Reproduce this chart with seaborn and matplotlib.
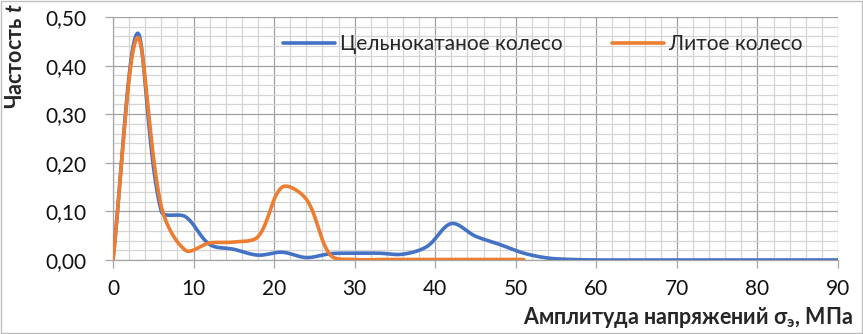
import numpy as np
import pandas as pd
import seaborn as sns
import matplotlib
matplotlib.use("Agg")
import matplotlib.pyplot as plt
from matplotlib.ticker import MultipleLocator, FuncFormatter
from matplotlib.patches import Rectangle

# Stress amplitude bins (MPa) and relative frequencies
amp_rolled = [0, 3, 6, 9, 12, 15, 18, 21, 24, 27, 30, 33, 36, 39, 42, 45, 48,
              51, 54, 57, 60, 63, 66, 69, 72, 75, 78, 81, 84, 87, 90]
freq_rolled = [0.0, 0.466, 0.100, 0.089, 0.032, 0.022, 0.010, 0.016, 0.005,
               0.013, 0.014, 0.014, 0.012, 0.028, 0.075, 0.049, 0.032, 0.014,
               0.004, 0.001, 0.0, 0.0, 0.0, 0.0, 0.0, 0.0, 0.0, 0.0, 0.0, 0.0, 0.0]

amp_cast = [0, 3, 6, 9, 12, 15, 18, 21, 24, 27, 30, 33, 36, 39, 42, 45, 48, 51]
freq_cast = [0.0, 0.457, 0.110, 0.020, 0.035, 0.037, 0.048, 0.150, 0.125,
             0.010, 0.001, 0.001, 0.001, 0.001, 0.001, 0.001, 0.001, 0.001]

series_names = ["Цельнокатаное колесо", "Литое колесо"]
series_colors = ["#4472C4", "#ED7D31"]
y_ticks = [0.0, 0.1, 0.2, 0.3, 0.4, 0.5]
x_ticks = [0, 10, 20, 30, 40, 50, 60, 70, 80, 90]

# Plot-area size in pixels, used to smooth curves in screen space
AREA_W, AREA_H = 725.0, 243.0
X_SPAN, Y_SPAN = 90.0, 0.5


def smooth_curve(xs, ys, n=40, k=1 / 3):
    """Chord-length weighted Bezier smoothing (spreadsheet-style smooth line)."""
    sx, sy = AREA_W / X_SPAN, AREA_H / Y_SPAN
    p = np.column_stack([np.asarray(xs, float) * sx, np.asarray(ys, float) * sy])
    m = len(p)
    seg = np.hypot(*(np.diff(p, axis=0).T))
    out_ctrl = np.zeros_like(p)
    in_ctrl = np.zeros_like(p)
    for i in range(m):
        a = p[i - 1] if i > 0 else p[i]
        b = p[i + 1] if i < m - 1 else p[i]
        d = b - a
        l_in = seg[i - 1] if i > 0 else 0.0
        l_out = seg[i] if i < m - 1 else 0.0
        tot = l_in + l_out
        if tot == 0:
            out_ctrl[i] = in_ctrl[i] = p[i]
            continue
        out_ctrl[i] = p[i] + d * (l_out / tot) * k
        in_ctrl[i] = p[i] - d * (l_in / tot) * k
    pts = []
    for i in range(m - 1):
        p1, p2 = p[i], p[i + 1]
        c1, c2 = out_ctrl[i], in_ctrl[i + 1]
        t = np.linspace(0, 1, n, endpoint=(i == m - 2))[:, None]
        pts.append(((1 - t) ** 3) * p1 + 3 * ((1 - t) ** 2) * t * c1
                   + 3 * (1 - t) * t ** 2 * c2 + t ** 3 * p2)
    pts = np.vstack(pts)
    return pts[:, 0] / sx, pts[:, 1] / sy


frames = []
for name, xs, ys in [(series_names[0], amp_rolled, freq_rolled),
                     (series_names[1], amp_cast, freq_cast)]:
    cx, cy = smooth_curve(xs, ys)
    frames.append(pd.DataFrame({"amp": cx, "freq": cy, "series": name}))
df = pd.concat(frames, ignore_index=True)

sns.set_style("white")
plt.rcParams["font.family"] = ["Lato", "Open Sans", "DejaVu Sans"]
plt.rcParams["mathtext.fontset"] = "custom"
plt.rcParams["mathtext.bfit"] = "Lato:bold:italic"
plt.rcParams["mathtext.rm"] = "Lato:bold"

fig = plt.figure(figsize=(8.63, 3.34), dpi=100)
ax = fig.add_axes([113 / 863, 1 - 260 / 334, AREA_W / 863, AREA_H / 334])

sns.lineplot(data=df, x="amp", y="freq", hue="series", hue_order=series_names,
             palette=series_colors, sort=False, estimator=None, units="series",
             linewidth=2.6, ax=ax, legend=False, zorder=3)

ax.set_xlim(0, 90)
ax.set_ylim(0, 0.5)
ax.set_xticks(x_ticks)
ax.set_yticks(y_ticks)
ax.xaxis.set_minor_locator(MultipleLocator(2))
ax.yaxis.set_minor_locator(MultipleLocator(0.02))
ax.yaxis.set_major_formatter(FuncFormatter(lambda v, _: f"{v:.2f}".replace(".", ",")))
ax.grid(which="minor", color="#D4D4D4", linewidth=0.9, zorder=0)
ax.grid(which="major", color="#A0A0A0", linewidth=0.9, zorder=1)
ax.set_axisbelow(True)
for side in ["top", "right"]:
    ax.spines[side].set_visible(False)
for side in ["left", "bottom"]:
    ax.spines[side].set_color("#A6A6A6")
    ax.spines[side].set_linewidth(0.9)
ax.tick_params(axis="both", which="major", direction="out", length=6,
               width=0.9, color="#A6A6A6", labelsize=15, labelcolor="#111111",
               left=True, bottom=True)
ax.tick_params(axis="x", pad=8)
ax.tick_params(axis="y", pad=13)
ax.tick_params(which="minor", length=0)
ax.set_xlabel("")
ax.set_ylabel("")

# Legend drawn inside the plot area without a frame
handles = [plt.Line2D([], [], color=c, linewidth=2.6) for c in series_colors]
leg = ax.legend(handles, series_names, loc="center left",
                bbox_to_anchor=((283 - 113) / AREA_W, 1 - (44 - 17) / AREA_H),
                ncol=2, frameon=False, fontsize=15, handlelength=2.5,
                handletextpad=0.25, columnspacing=2.35, borderaxespad=0,
                borderpad=0)

fig.text(16 / 863, 1 - 3 / 334, "Частость $\\mathbfit{t}$", rotation=90,
         ha="center", va="top", fontsize=15.5, fontweight="bold")
fig.text(853 / 863, 1 - 318 / 334,
         "Амплитуда напряжений σ$_\\mathregular{э}$, МПа", ha="right",
         va="center", fontsize=15.5, fontweight="bold")

fig.patches.append(Rectangle((1 / 863, 1 / 334), 861 / 863, 332 / 334,
                             transform=fig.transFigure, fill=False,
                             edgecolor="#BFBFBF", linewidth=1))

fig.savefig("out.png", dpi=100)
